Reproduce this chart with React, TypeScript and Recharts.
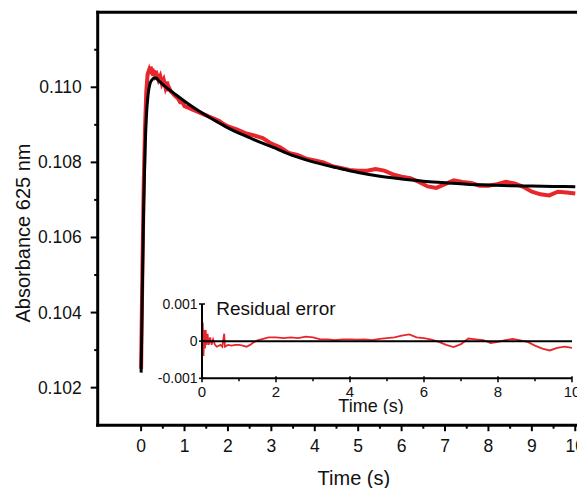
import { LineChart, Line, XAxis, YAxis } from "recharts";

const FONT = "'Liberation Sans', Arial, sans-serif";
const RED = "#e8262b";

// main panel: fitted curve (black)
const FIT_T = [0, 0.03, 0.06, 0.09, 0.12, 0.16, 0.2, 0.25, 0.3, 0.35, 0.4, 0.5, 0.6, 0.7, 0.8, 1.0, 1.2, 1.4, 1.6, 1.8, 2.0, 2.25, 2.5, 2.75, 3.0, 3.5, 4.0, 4.5, 5.0, 5.5, 6.0, 6.5, 7.0, 7.5, 8.0, 8.5, 9.0, 9.5, 10.0];
const FIT_A = [0.1024, 0.1047, 0.1069, 0.1083, 0.1092, 0.1098, 0.11008, 0.1102, 0.11025, 0.11024, 0.11018, 0.11008, 0.10998, 0.10989, 0.1098, 0.10963, 0.10947, 0.10932, 0.10918, 0.10905, 0.10892, 0.10878, 0.10866, 0.10853, 0.10842, 0.10818, 0.108, 0.10786, 0.10773, 0.10763, 0.10756, 0.1075, 0.10746, 0.10742, 0.1074, 0.10738, 0.10737, 0.10736, 0.10735];

// main panel: measured absorbance (red)
const OBS_T = [0, 0.03, 0.06, 0.09, 0.12, 0.15, 0.18, 0.2, 0.22, 0.24, 0.26, 0.28, 0.3, 0.33, 0.36, 0.4, 0.44, 0.48, 0.52, 0.56, 0.6, 0.62, 0.64, 0.68, 0.72, 0.76, 0.8, 0.85, 0.9, 0.95, 1.0, 1.1, 1.2, 1.3, 1.4, 1.5, 1.6, 1.7, 1.8, 1.9, 2.0, 2.2, 2.4, 2.6, 2.8, 3.0, 3.2, 3.4, 3.6, 3.8, 4.0, 4.2, 4.4, 4.6, 4.8, 5.0, 5.2, 5.4, 5.6, 5.8, 6.0, 6.2, 6.4, 6.6, 6.8, 7.0, 7.2, 7.4, 7.6, 7.8, 8.0, 8.2, 8.4, 8.6, 8.8, 9.0, 9.2, 9.4, 9.6, 9.8, 10.0];
const OBS_A = [0.1025, 0.1052, 0.1074, 0.1089, 0.1099, 0.11035, 0.11045, 0.11035, 0.11055, 0.1104, 0.1105, 0.1103, 0.11045, 0.1103, 0.11035, 0.1102, 0.1103, 0.1101, 0.1102, 0.11, 0.11015, 0.1099, 0.11, 0.1099, 0.10985, 0.1098, 0.10975, 0.1097, 0.1096, 0.1096, 0.1095, 0.10945, 0.1094, 0.10935, 0.1093, 0.10925, 0.1092, 0.10915, 0.1091, 0.10902, 0.10896, 0.10888, 0.10878, 0.10872, 0.10865, 0.1085, 0.1084, 0.10825, 0.1082, 0.1081, 0.10805, 0.108, 0.1079, 0.10785, 0.1078, 0.10778, 0.10778, 0.10782, 0.10778, 0.10768, 0.10762, 0.10758, 0.10748, 0.10736, 0.10732, 0.10742, 0.10752, 0.10748, 0.10745, 0.10738, 0.10738, 0.10742, 0.10748, 0.10744, 0.10735, 0.10722, 0.10715, 0.10712, 0.10722, 0.1072, 0.10717];

// inset: residual error
const RES_T = [0, 0.02, 0.04, 0.06, 0.08, 0.1, 0.12, 0.15, 0.18, 0.22, 0.26, 0.3, 0.35, 0.4, 0.5, 0.55, 0.6, 0.62, 0.7, 0.8, 0.9, 1.0, 1.1, 1.2, 1.3, 1.4, 1.5, 1.6, 1.8, 2.0, 2.2, 2.4, 2.6, 2.8, 3.0, 3.2, 3.4, 3.6, 3.8, 4.0, 4.2, 4.4, 4.6, 4.8, 5.0, 5.2, 5.4, 5.6, 5.8, 6.0, 6.2, 6.4, 6.6, 6.8, 7.0, 7.2, 7.4, 7.6, 7.8, 8.0, 8.2, 8.4, 8.6, 8.8, 9.0, 9.2, 9.4, 9.6, 9.8, 10.0];
const RES_V = [0, 0.0005, -0.0004, 0.0003, -0.0002, 0.0003, -0.0001, 0.0002, -0.0001, 0.0001, -0.0001, 0.00005, -0.0001, -0.00015, -0.0001, -0.00015, 0.0002, -0.00015, -0.0001, -0.00012, -0.0001, -0.0001, -0.00012, -0.00015, -0.0001, -0.00003, 0.00002, 0.00005, 0.0001, 0.0001, 0.00008, 0.0001, 0.00008, 0.00012, 0.0001, 0.00005, 0.00005, 0.00003, 0.00005, 0.00005, 0.00004, 0.00005, 0.00003, 0.00006, 0.00008, 0.0001, 0.00015, 0.00018, 0.0001, 0.00008, 0.00004, -0.00002, -0.0001, -0.00016, -0.00008, 0.00007, 0.00005, 0.00003, -0.00005, -0.00002, 0.00003, 0.00006, 0.00002, -0.00002, -0.00012, -0.0002, -0.00025, -0.00018, -0.00015, -0.00018];
const ZERO_T = [0, 10];
const ZERO_V = [0, 0];

// tick values
const X_MAJOR = [0, 1, 2, 3, 4, 5, 6, 7, 8, 9, 10];
const X_MINOR = [0.5, 1.5, 2.5, 3.5, 4.5, 5.5, 6.5, 7.5, 8.5, 9.5];
const Y_MAJOR = [0.102, 0.104, 0.106, 0.108, 0.11];
const Y_MINOR = [0.103, 0.105, 0.107, 0.109, 0.111];
const IX_MAJOR = [0, 2, 4, 6, 8, 10];
const IX_MINOR = [1, 3, 5, 7, 9];
const IY_TICKS = [-0.001, 0, 0.001];

const fit = FIT_T.map((t, i) => ({ t, v: FIT_A[i] }));
const obs = OBS_T.map((t, i) => ({ t, v: OBS_A[i] }));
const res = RES_T.map((t, i) => ({ t, v: RES_V[i] }));
const zero = ZERO_T.map((t, i) => ({ t, v: ZERO_V[i] }));

const MainYTick = (p: any) => {
  const v: number = p.payload.value;
  const major = Y_MAJOR.includes(v);
  return (
    <g>
      <line x1={p.x - (major ? 7 : 3.5)} x2={p.x} y1={p.y} y2={p.y} stroke="#000" strokeWidth={2} />
      {major && <text x={p.x - 16} y={p.y + 6} textAnchor="end" fontSize={17.5} fontFamily={FONT} fill="#111">{v.toFixed(3)}</text>}
    </g>
  );
};

const MainXTick = (p: any) => {
  const v: number = p.payload.value;
  const major = X_MAJOR.includes(v);
  return (
    <g>
      <line x1={p.x} x2={p.x} y1={p.y} y2={p.y + (major ? 6 : 3.5)} stroke="#000" strokeWidth={2} />
      {major && <text x={p.x} y={p.y + 26.5} textAnchor="middle" fontSize={17.5} fontFamily={FONT} fill="#111">{v}</text>}
    </g>
  );
};

const InsetYTick = (p: any) => {
  const v: number = p.payload.value;
  return (
    <g>
      <line x1={p.x - 3} x2={p.x + 3} y1={p.y} y2={p.y} stroke="#000" strokeWidth={1.5} />
      <text x={p.x - 4.5} y={p.y + 5} textAnchor="end" fontSize={14} fontFamily={FONT} fill="#111">{v === 0 ? "0" : v.toFixed(3)}</text>
    </g>
  );
};

const InsetXTick = (p: any) => {
  const v: number = p.payload.value;
  const major = IX_MAJOR.includes(v);
  return (
    <g>
      <line x1={p.x} x2={p.x} y1={p.y - (major ? 2 : 0)} y2={p.y + (major ? 4 : 3)} stroke="#000" strokeWidth={1.5} />
      {major && <text x={p.x} y={p.y + 19} textAnchor="middle" fontSize={15} fontFamily={FONT} fill="#111">{v}</text>}
    </g>
  );
};

const AXIS_LINE = { stroke: "#000", strokeWidth: 3, strokeLinecap: "square" as const };
const INSET_LINE = { stroke: "#000", strokeWidth: 2 };

export default function App() {
  return (
    <div style={{ position: "absolute", left: 0, top: 0, width: 577, height: 488, overflow: "hidden", background: "#fff" }}>
      <div style={{ position: "absolute", left: 0, top: 0 }}>
        <LineChart width={620} height={488} margin={{ top: 11.2, right: 10, bottom: 0, left: 0 }}>
          <XAxis xAxisId="b" dataKey="t" type="number" domain={[-1, 10.8]} ticks={[...X_MAJOR, ...X_MINOR]} interval={0}
            height={62.8} tickSize={0} tickMargin={0} tickLine={false} axisLine={AXIS_LINE} tick={<MainXTick />}
            label={{ value: "Time (s)", position: "insideBottom", offset: 3, fontSize: 20, fontFamily: FONT, fill: "#111" }} allowDataOverflow />
          <XAxis xAxisId="top" orientation="top" dataKey="t" type="number" domain={[-1, 10.8]} height={1} ticks={[]} tick={false} tickLine={false} axisLine={AXIS_LINE} />
          <YAxis yAxisId="l" type="number" domain={[0.101, 0.112]} ticks={[...Y_MAJOR, ...Y_MINOR]} interval={0} width={97.7}
            tickSize={0} tickMargin={0} tickLine={false} axisLine={AXIS_LINE} tick={<MainYTick />}
            label={{ value: "Absorbance 625 nm", angle: -90, position: "center", dx: -26, dy: 14.3, fontSize: 20, fontFamily: FONT, fill: "#111" }} allowDataOverflow />
          <Line xAxisId="b" yAxisId="l" data={obs} dataKey="v" type="linear" stroke={RED} strokeWidth={4} dot={false} isAnimationActive={false} />
          <Line xAxisId="b" yAxisId="l" data={fit} dataKey="v" type="monotone" stroke="#000" strokeWidth={3} dot={false} isAnimationActive={false} />
          <Line xAxisId="top" yAxisId="l" data={fit} dataKey="v" type="monotone" stroke="none" strokeWidth={0} dot={false} legendType="none" isAnimationActive={false} />
        </LineChart>
      </div>
      <div style={{ position: "absolute", left: 101.7, top: 284 }}>
        <LineChart width={500} height={130.3} margin={{ top: 20, right: 30, bottom: 0, left: 0 }}>
          <XAxis dataKey="t" type="number" domain={[0, 10]} ticks={[...IX_MAJOR, ...IX_MINOR]} interval={0} height={36}
            tickSize={0} tickMargin={0} tickLine={false} axisLine={INSET_LINE} tick={<InsetXTick />}
            label={{ value: "Time (s)", position: "insideBottom", offset: 2.6, dx: -16, fontSize: 18, fontFamily: FONT, fill: "#111" }} />
          <YAxis type="number" domain={[-0.001, 0.001]} ticks={IY_TICKS} interval={0} width={100}
            tickSize={0} tickMargin={0} tickLine={false} axisLine={INSET_LINE} tick={<InsetYTick />}
            label={{ content: (p: any) => <text x={p.viewBox.x + p.viewBox.width + 14.3} y={p.viewBox.y + 11} fontSize={19} fontFamily={FONT} fill="#111">Residual error</text> }} allowDataOverflow />
          <Line data={res} dataKey="v" type="linear" stroke={RED} strokeWidth={1.8} dot={false} isAnimationActive={false} />
          <Line data={zero} dataKey="v" type="linear" stroke="#000" strokeWidth={2} dot={false} isAnimationActive={false} />
        </LineChart>
      </div>
    </div>
  );
}
